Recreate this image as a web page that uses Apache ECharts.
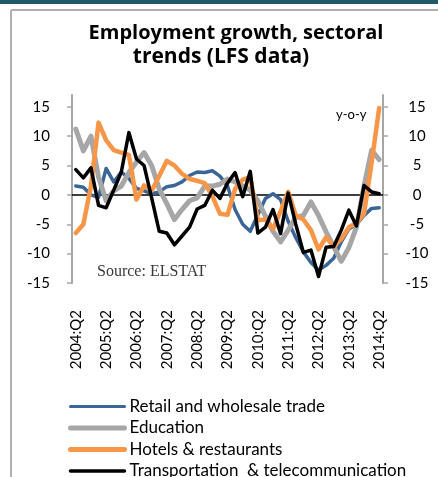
<!DOCTYPE html>
<html>
<head>
<meta charset="utf-8">
<script src="https://cdn.jsdelivr.net/npm/echarts@6/dist/echarts.min.js"></script>
<style>
  html, body { margin: 0; padding: 0; background: #ffffff; }
  #chart { width: 438px; height: 477px; }
</style>
</head>
<body>
<div id="chart"></div>
<script>
// Quarterly categories, 2004:Q2 to 2014:Q2
const quarters = [
  '2004:Q2','2004:Q3','2004:Q4','2005:Q1',
  '2005:Q2','2005:Q3','2005:Q4','2006:Q1',
  '2006:Q2','2006:Q3','2006:Q4','2007:Q1',
  '2007:Q2','2007:Q3','2007:Q4','2008:Q1',
  '2008:Q2','2008:Q3','2008:Q4','2009:Q1',
  '2009:Q2','2009:Q3','2009:Q4','2010:Q1',
  '2010:Q2','2010:Q3','2010:Q4','2011:Q1',
  '2011:Q2','2011:Q3','2011:Q4','2012:Q1',
  '2012:Q2','2012:Q3','2012:Q4','2013:Q1',
  '2013:Q2','2013:Q3','2013:Q4','2014:Q1',
  '2014:Q2'
];

// Employment growth, y-o-y %, by sector
const retailTrade = [
  1.5, 1.3, 0.0, -0.4, 4.5, 2.2, 3.9, 2.8, 1.1, 0.7,
  0.2, 0.5, 1.4, 1.6, 2.2, 3.3, 3.9, 3.8, 4.1, 3.2,
  1.5, -2.5, -5.0, -6.2, -3.4, -0.6, 0.2, -0.8, -4.5, -7.3,
  -9.7, -11.5, -12.8, -12.0, -10.8, -8.0, -5.8, -5.0, -3.5, -2.3,
  -2.2
];
const education = [
  11.2, 7.5, 10.0, 3.0, -1.0, 0.7, 1.5, 3.8, 5.6, 7.2,
  5.0, 1.0, -1.5, -4.2, -2.5, -1.0, -0.5, 1.5, 1.5, 1.8,
  2.7, 2.2, 1.5, 0.8, -1.0, -3.6, -6.2, -8.0, -6.0, -3.8,
  -3.5, -1.2, -3.5, -6.3, -8.8, -11.3, -9.0, -5.5, 1.5, 7.6,
  6.0
];
const hotelsRestaurants = [
  -6.5, -5.0, 1.5, 12.3, 9.3, 7.6, 7.2, 6.8, -0.8, 1.6,
  0.7, 3.2, 5.8, 5.0, 3.6, 2.7, 2.4, 2.0, -0.2, -3.2,
  -3.4, 1.0, 2.6, 3.0, -4.3, -4.2, -5.8, -2.8, 0.5, -3.5,
  -4.2, -6.0, -9.3, -7.2, -8.8, -7.5, -5.5, -4.8, -3.2, 5.5,
  14.8
];
const transportTelecom = [
  4.3, 2.9, 4.6, -1.8, -2.2, 0.8, 3.9, 10.6, 6.1, 5.0,
  -0.5, -6.2, -6.5, -8.5, -7.0, -5.5, -2.4, -1.8, 0.8, -0.6,
  2.0, 3.8, -0.3, 4.0, -6.5, -5.5, -2.5, -6.6, 0.3, -5.0,
  -9.8, -9.4, -13.9, -8.9, -8.8, -6.0, -2.6, -5.3, 1.6, 0.5,
  0.2
];

const yTicks = [-15, -10, -5, 0, 5, 10, 15];

const seriesNames = [
  'Retail and wholesale trade',
  'Education',
  'Hotels & restaurants',
  'Transportation  & telecommunication'
];
const seriesData = [retailTrade, education, hotelsRestaurants, transportTelecom];
const seriesColors = ['#3a6597', '#a6a6a6', '#f79646', '#000000'];
const seriesWidths = [3.5, 5, 4.5, 3.5];
const legendWidths = [3, 5, 5, 3.5];

const baseFont = 'Lato, "Open Sans", sans-serif';
const axisGrey = '#a6a6a6';

function valueAxis(side) {
  const right = side === 'right';
  return {
    type: 'value',
    position: side,
    min: -15,
    max: 17,
    interval: 5,
    splitLine: { show: false },
    axisLine: { show: true, lineStyle: { color: axisGrey, width: 2 } },
    axisTick: {
      show: true, inside: false, length: 5,
      customValues: yTicks,
      lineStyle: { color: axisGrey, width: 1.5 }
    },
    axisLabel: {
      customValues: yTicks,
      margin: right ? 34 : 22,
      align: right ? 'center' : 'right',
      color: '#000000',
      fontFamily: baseFont,
      fontSize: 15
    }
  };
}

const chart = echarts.init(document.getElementById('chart'), null, { renderer: 'canvas' });

const titleFont = '"Open Sans", Lato, sans-serif';

chart.setOption({
  animation: false,
  backgroundColor: '#ffffff',
  title: [
    {
      text: 'Employment growth, sectoral', left: 231, top: 18, textAlign: 'center',
      textStyle: { fontFamily: titleFont, fontWeight: 'bold', fontSize: 20, color: '#000000' }
    },
    {
      text: 'trends (LFS data)', left: 216, top: 42, textAlign: 'center',
      textStyle: { fontFamily: titleFont, fontWeight: 'bold', fontSize: 21, color: '#000000' }
    }
  ],
  graphic: [
    // page band and frame
    { type: 'rect', shape: { x: 0, y: 0, width: 438, height: 4 }, style: { fill: '#215968' }, silent: true },
    { type: 'line', shape: { x1: 11, y1: 10, x2: 438, y2: 10 }, style: { stroke: '#b0b0b0', lineWidth: 2 }, silent: true },
    { type: 'line', shape: { x1: 11, y1: 10, x2: 11, y2: 477 }, style: { stroke: '#b0b0b0', lineWidth: 2 }, silent: true },
    {
      type: 'text', left: 336, top: 108,
      style: { text: 'y-o-y', fontFamily: baseFont, fontSize: 13, fill: '#000000' }
    },
    {
      type: 'text', left: 97, top: 264,
      style: { text: 'Source: ELSTAT', fontFamily: '"Liberation Serif", "Times New Roman", serif', fontSize: 16, fill: '#3a3a3a' }
    }
  ],
  legend: {
    orient: 'vertical',
    left: 68,
    top: 398,
    height: 140,
    padding: 0,
    itemWidth: 54,
    itemHeight: 14,
    itemGap: 4.5,
    itemStyle: { opacity: 0 },
    textStyle: { fontFamily: baseFont, fontSize: 17, color: '#000000' },
    data: seriesNames.map((name, k) => ({
      name: name,
      lineStyle: { width: legendWidths[k], cap: 'round' }
    }))
  },
  grid: { left: 72, right: 55, top: 95, bottom: 194, containLabel: false },
  xAxis: [
    {
      type: 'category',
      data: quarters,
      boundaryGap: true,
      axisLine: { show: false },
      axisTick: { show: false },
      splitLine: { show: false },
      axisLabel: {
        interval: 3,
        rotate: 90,
        margin: 27,
        padding: [5, 0, 0, 0],
        color: '#000000',
        fontFamily: baseFont,
        fontSize: 15
      }
    },
    {
      // zero line
      type: 'category',
      data: quarters,
      position: 'bottom',
      boundaryGap: true,
      axisLine: { show: true, onZero: true, onZeroAxisIndex: 0, lineStyle: { color: '#000000', width: 1.5 } },
      axisTick: { show: false },
      axisLabel: { show: false },
      splitLine: { show: false }
    }
  ],
  yAxis: [valueAxis('left'), valueAxis('right')],
  series: seriesNames.map((name, k) => ({
    name: name,
    type: 'line',
    xAxisIndex: 0,
    yAxisIndex: 0,
    data: seriesData[k],
    symbol: 'none',
    smooth: false,
    color: seriesColors[k],
    lineStyle: { color: seriesColors[k], width: seriesWidths[k], join: 'round', cap: 'round' },
    z: 3 + k
  }))
});
</script>
</body>
</html>
